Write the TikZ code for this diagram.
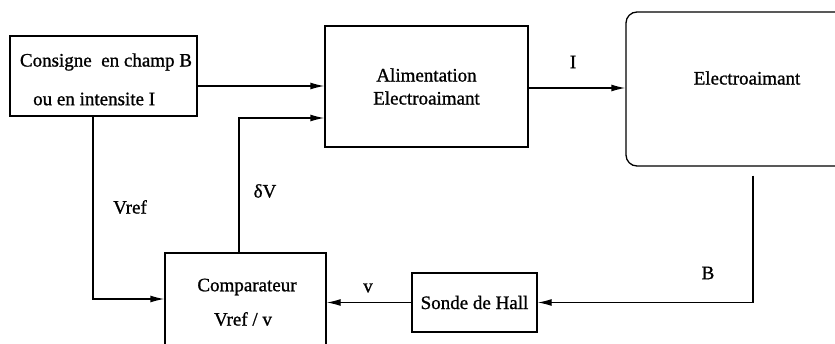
\documentclass[tikz,border=0pt]{standalone}
\usepackage{fontspec}
\setmainfont[FakeBold=1]{Liberation Serif}
\usetikzlibrary{arrows.meta}
\begin{document}
\begin{tikzpicture}[x=1pt,y=-1pt,
  box/.style={draw, line width=1.3pt, rectangle, inner sep=0pt},
  txt/.style={inner sep=0pt, font=\fontsize{19}{23}\selectfont, align=center},
  arr/.style={draw, line width=1.3pt, -{Latex[length=14pt,width=7pt]}},
  ln/.style={draw, line width=1.3pt}]
\useasboundingbox (0,0) rectangle (835,343);
\fill[white] (0,0) rectangle (835,343);
\clip (0,0) rectangle (835,343);
% boxes
\node[box, minimum width=187pt, minimum height=80pt] (cons) at (103.5,76) {};
\node[txt] (consA) at (106,62) {Consigne\ \ en champ B};
\node[txt, anchor=west] (consB) at (33,99) {ou en intensite I};
\node[box, minimum width=203pt, minimum height=121pt, txt] (alim) at (426.5,86.5) {Alimentation\\Electroaimant};
\node[box, rounded corners=11pt, minimum width=254pt, minimum height=154pt] (electro) at (753,89) {};
\node[txt] (electroT) at (747,78) {Electroaimant};
\node[box, minimum width=125pt, minimum height=59pt, txt] (sonde) at (474.5,302.5) {Sonde de Hall};
\node[box, minimum width=161pt, minimum height=130pt] (comp) at (245.5,318) {};
\node[txt] (compA) at (247,287) {Comparateur};
\node[txt] (compB) at (243,319) {Vref / v};
% connectors
\draw[arr] ([yshift=-10pt]cons.east) coordinate (c1) -- (c1 -| alim.west);
\draw[arr] ([xshift=-10.5pt]cons.south) |- (comp.west |- 0,299);
\draw[arr] ([xshift=-6.5pt]comp.north) |- (alim.west |- 0,118);
\draw[arr] (alim.east |- 0,88) -- (electro.west |- 0,88);
\draw[arr] ([yshift=-9pt]electro.south) |- (sonde.east);
\draw[arr] (sonde.west) -- (sonde.west -| comp.east);
% labels
\node[txt] (lI) at (573,62) {I};
\node[txt] (lB) at (708,273) {B};
\node[txt] (lv) at (368,288) {v};
\node[txt] (ldV) at (265,191) {δV};
\node[txt] (lVref) at (130,207) {Vref};
\end{tikzpicture}
\end{document}
